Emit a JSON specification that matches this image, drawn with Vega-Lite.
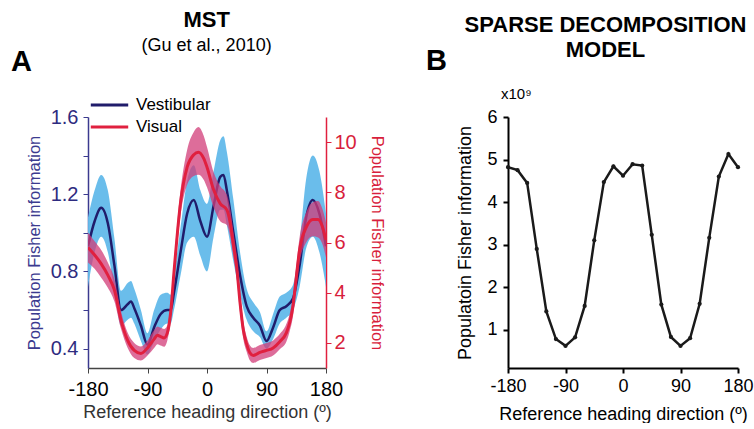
{
  "$schema": "https://vega.github.io/schema/vega-lite/v6.json",
  "padding": {"left": 11, "top": 9, "right": 0, "bottom": 0},
  "background": "white",
  "config": {
    "font": "Liberation Sans",
    "view": {"stroke": null},
    "title": {"font": "Liberation Sans", "fontSize": 22, "fontWeight": "bold", "color": "black", "subtitleFont": "Liberation Sans", "subtitleFontSize": 18, "subtitleColor": "black"},
    "axis": {"labelFont": "Liberation Sans", "titleFont": "Liberation Sans", "titleFontWeight": "normal", "grid": false, "tickSize": 5, "labelFlush": false, "labelOverlap": false}
  },
  "datasets": {
    "vest": [
      {"deg": -180, "v": 0.93, "lo": 0.72, "hi": 1.08},
      {"deg": -170, "v": 1.06, "lo": 0.9, "hi": 1.22},
      {"deg": -160, "v": 1.13, "lo": 0.98, "hi": 1.3},
      {"deg": -150, "v": 1.05, "lo": 0.9, "hi": 1.22},
      {"deg": -140, "v": 0.83, "lo": 0.7, "hi": 0.97},
      {"deg": -130, "v": 0.6, "lo": 0.52, "hi": 0.7},
      {"deg": -120, "v": 0.63, "lo": 0.55, "hi": 0.74},
      {"deg": -115, "v": 0.645, "lo": 0.56, "hi": 0.75},
      {"deg": -110, "v": 0.61, "lo": 0.53, "hi": 0.71},
      {"deg": -100, "v": 0.52, "lo": 0.44, "hi": 0.6},
      {"deg": -90, "v": 0.42, "lo": 0.37, "hi": 0.48},
      {"deg": -80, "v": 0.51, "lo": 0.44, "hi": 0.6},
      {"deg": -70, "v": 0.58, "lo": 0.5, "hi": 0.68},
      {"deg": -60, "v": 0.6, "lo": 0.53, "hi": 0.69},
      {"deg": -55, "v": 0.6, "lo": 0.53, "hi": 0.68},
      {"deg": -50, "v": 0.69, "lo": 0.6, "hi": 0.78},
      {"deg": -40, "v": 0.9, "lo": 0.78, "hi": 1.03},
      {"deg": -30, "v": 1.1, "lo": 0.95, "hi": 1.27},
      {"deg": -20, "v": 1.17, "lo": 0.98, "hi": 1.35},
      {"deg": -10, "v": 1.06, "lo": 0.88, "hi": 1.22},
      {"deg": 0, "v": 0.98, "lo": 0.8, "hi": 1.15},
      {"deg": 10, "v": 1.14, "lo": 0.98, "hi": 1.32},
      {"deg": 20, "v": 1.29, "lo": 1.12, "hi": 1.48},
      {"deg": 25, "v": 1.3, "lo": 1.12, "hi": 1.5},
      {"deg": 30, "v": 1.22, "lo": 1.04, "hi": 1.42},
      {"deg": 40, "v": 1.0, "lo": 0.85, "hi": 1.17},
      {"deg": 50, "v": 0.78, "lo": 0.68, "hi": 0.9},
      {"deg": 60, "v": 0.62, "lo": 0.55, "hi": 0.71},
      {"deg": 70, "v": 0.56, "lo": 0.49, "hi": 0.64},
      {"deg": 80, "v": 0.52, "lo": 0.46, "hi": 0.59},
      {"deg": 90, "v": 0.44, "lo": 0.4, "hi": 0.49},
      {"deg": 100, "v": 0.51, "lo": 0.45, "hi": 0.58},
      {"deg": 110, "v": 0.6, "lo": 0.53, "hi": 0.67},
      {"deg": 120, "v": 0.62, "lo": 0.56, "hi": 0.69},
      {"deg": 130, "v": 0.66, "lo": 0.6, "hi": 0.73},
      {"deg": 140, "v": 0.83, "lo": 0.72, "hi": 0.95},
      {"deg": 150, "v": 1.08, "lo": 0.92, "hi": 1.28},
      {"deg": 160, "v": 1.17, "lo": 0.98, "hi": 1.4},
      {"deg": 170, "v": 1.1, "lo": 0.9, "hi": 1.32},
      {"deg": 180, "v": 0.93, "lo": 0.72, "hi": 1.1}
    ],
    "vis": [
      {"deg": -180, "v": 5.8, "lo": 5.2, "hi": 6.4},
      {"deg": -170, "v": 5.5, "lo": 4.95, "hi": 6.05},
      {"deg": -160, "v": 5.15, "lo": 4.6, "hi": 5.7},
      {"deg": -150, "v": 4.7, "lo": 4.2, "hi": 5.2},
      {"deg": -140, "v": 4.1, "lo": 3.65, "hi": 4.55},
      {"deg": -130, "v": 2.9, "lo": 2.55, "hi": 3.25},
      {"deg": -120, "v": 2.1, "lo": 1.8, "hi": 2.4},
      {"deg": -110, "v": 1.7, "lo": 1.4, "hi": 2.0},
      {"deg": -100, "v": 1.58, "lo": 1.3, "hi": 1.86},
      {"deg": -90, "v": 1.8, "lo": 1.5, "hi": 2.1},
      {"deg": -80, "v": 2.15, "lo": 1.8, "hi": 2.5},
      {"deg": -75, "v": 2.3, "lo": 1.95, "hi": 2.65},
      {"deg": -70, "v": 2.25, "lo": 1.9, "hi": 2.6},
      {"deg": -65, "v": 2.2, "lo": 1.85, "hi": 2.55},
      {"deg": -60, "v": 2.4, "lo": 2.1, "hi": 2.7},
      {"deg": -55, "v": 3.2, "lo": 2.85, "hi": 3.55},
      {"deg": -50, "v": 4.8, "lo": 4.4, "hi": 5.2},
      {"deg": -40, "v": 7.6, "lo": 7.1, "hi": 8.1},
      {"deg": -30, "v": 9.0, "lo": 8.3, "hi": 9.7},
      {"deg": -20, "v": 9.5, "lo": 8.65, "hi": 10.4},
      {"deg": -13, "v": 9.6, "lo": 8.7, "hi": 10.6},
      {"deg": -5, "v": 9.35, "lo": 8.5, "hi": 10.25},
      {"deg": 0, "v": 9.0, "lo": 8.2, "hi": 9.8},
      {"deg": 10, "v": 8.1, "lo": 7.4, "hi": 8.8},
      {"deg": 20, "v": 7.55, "lo": 6.85, "hi": 8.25},
      {"deg": 30, "v": 7.3, "lo": 6.7, "hi": 7.9},
      {"deg": 35, "v": 6.8, "lo": 6.25, "hi": 7.35},
      {"deg": 40, "v": 5.9, "lo": 5.4, "hi": 6.4},
      {"deg": 45, "v": 5.0, "lo": 4.55, "hi": 5.45},
      {"deg": 50, "v": 3.6, "lo": 3.2, "hi": 4.0},
      {"deg": 55, "v": 2.5, "lo": 2.15, "hi": 2.85},
      {"deg": 60, "v": 1.95, "lo": 1.65, "hi": 2.25},
      {"deg": 65, "v": 1.6, "lo": 1.3, "hi": 1.9},
      {"deg": 70, "v": 1.5, "lo": 1.2, "hi": 1.8},
      {"deg": 80, "v": 1.62, "lo": 1.32, "hi": 1.92},
      {"deg": 90, "v": 1.7, "lo": 1.4, "hi": 2.0},
      {"deg": 100, "v": 1.8, "lo": 1.5, "hi": 2.1},
      {"deg": 110, "v": 2.05, "lo": 1.75, "hi": 2.35},
      {"deg": 120, "v": 2.4, "lo": 2.05, "hi": 2.75},
      {"deg": 125, "v": 2.8, "lo": 2.45, "hi": 3.15},
      {"deg": 130, "v": 3.45, "lo": 3.05, "hi": 3.85},
      {"deg": 135, "v": 4.6, "lo": 4.15, "hi": 5.05},
      {"deg": 140, "v": 5.7, "lo": 5.2, "hi": 6.2},
      {"deg": 150, "v": 6.6, "lo": 6.0, "hi": 7.2},
      {"deg": 160, "v": 6.92, "lo": 6.25, "hi": 7.6},
      {"deg": 168, "v": 6.92, "lo": 6.2, "hi": 7.65},
      {"deg": 175, "v": 6.6, "lo": 5.9, "hi": 7.3},
      {"deg": 180, "v": 6.1, "lo": 5.4, "hi": 6.8}
    ],
    "model": [
      {"deg": -180, "fi": 4.82},
      {"deg": -165, "fi": 4.75},
      {"deg": -150, "fi": 4.45},
      {"deg": -135, "fi": 2.9},
      {"deg": -120, "fi": 1.43},
      {"deg": -105, "fi": 0.78},
      {"deg": -90, "fi": 0.62},
      {"deg": -75, "fi": 0.82},
      {"deg": -60, "fi": 1.56},
      {"deg": -45, "fi": 3.1},
      {"deg": -30, "fi": 4.47},
      {"deg": -15, "fi": 4.84},
      {"deg": 0, "fi": 4.62},
      {"deg": 15, "fi": 4.89},
      {"deg": 30, "fi": 4.86},
      {"deg": 45, "fi": 3.23},
      {"deg": 60, "fi": 1.59},
      {"deg": 75, "fi": 0.83},
      {"deg": 90, "fi": 0.62},
      {"deg": 105, "fi": 0.8},
      {"deg": 120, "fi": 1.61},
      {"deg": 135, "fi": 3.16},
      {"deg": 150, "fi": 4.6},
      {"deg": 165, "fi": 5.13},
      {"deg": 180, "fi": 4.82}
    ]
  },
  "hconcat": [
    {
      "title": {"text": "MST", "subtitle": "(Gu et al., 2010)", "anchor": "middle", "offset": -8, "subtitlePadding": 5, "dx": 9},
      "vconcat": [
        {
          "title": {"text": "A", "anchor": "start", "frame": "group", "fontSize": 29, "dx": -77, "offset": 30},
          "width": 238,
          "height": 251,
          "layer": [
            {
              "data": {"name": "vest"},
              "layer": [
                {
                  "mark": {"type": "area", "color": "#62b9ea", "opacity": 0.95, "interpolate": "monotone", "clip": true},
                  "encoding": {
                    "x": {"field": "deg", "type": "quantitative", "scale": {"domain": [-180, 180], "nice": false},
                      "axis": {"values": [-180, -135, -90, -45, 0, 45, 90, 135, 180], "labelExpr": "datum.value % 90 == 0 ? '' + datum.value : ''", "title": "Reference heading direction (º)", "labelFontSize": 20, "titleFontSize": 18, "titlePadding": 4, "domainColor": "#444", "tickColor": "#444", "labelColor": "black", "titleColor": "#333", "labelPadding": 6, "domainWidth": 1.5}},
                    "y": {"field": "lo", "type": "quantitative", "scale": {"domain": [0.3, 1.6], "nice": false, "zero": false},
                      "axis": {"orient": "left", "values": [0.4, 0.6, 0.8, 1.0, 1.2, 1.4, 1.6], "labelExpr": "indexof(['0.4','0.8','1.2','1.6'], format(datum.value, '.1f')) >= 0 ? format(datum.value, '.1f') : ''", "title": "Population Fisher information", "titleFontSize": 16.5, "labelFontSize": 20, "domainColor": "#3b3a8f", "tickColor": "#3b3a8f", "labelColor": "#2e2b80", "titleColor": "#3b3a8f", "titlePadding": 8, "labelPadding": 5, "domainWidth": 1.5}},
                    "y2": {"field": "hi"}
                  }
                },
                {
                  "mark": {"type": "line", "strokeWidth": 2.5, "interpolate": "monotone", "clip": true},
                  "encoding": {
                    "x": {"field": "deg", "type": "quantitative"},
                    "y": {"field": "v", "type": "quantitative"},
                    "color": {"datum": "Vestibular", "type": "nominal",
                      "scale": {"domain": ["Vestibular", "Visual"], "range": ["#201c6b", "#e0203f"]},
                      "legend": {"title": null, "orient": "none", "legendX": 1, "legendY": -22, "symbolType": "stroke", "symbolSize": 1400, "symbolStrokeWidth": 3, "labelFontSize": 17, "labelFont": "Liberation Sans", "labelColor": "black", "clipHeight": 20, "rowPadding": 2, "labelOffset": 6}}
                  }
                }
              ]
            },
            {
              "data": {"name": "vis"},
              "layer": [
                {
                  "mark": {"type": "area", "color": "#d23c78", "opacity": 0.75, "interpolate": "monotone", "clip": true},
                  "encoding": {
                    "x": {"field": "deg", "type": "quantitative"},
                    "y": {"field": "lo", "type": "quantitative", "scale": {"domain": [1, 11], "nice": false, "zero": false},
                      "axis": {"orient": "right", "values": [2, 3, 4, 5, 6, 7, 8, 9, 10, 11], "labelExpr": "datum.value % 2 == 0 && datum.value <= 10 ? datum.label : ''", "title": "Population Fisher information", "titleAngle": 90, "titleFontSize": 16.5, "labelFontSize": 20, "domainColor": "#e0203f", "tickColor": "#e0203f", "labelColor": "#d81e3c", "titleColor": "#d81e3c", "titlePadding": 12, "labelPadding": 3, "domainWidth": 1.5}},
                    "y2": {"field": "hi"}
                  }
                },
                {
                  "mark": {"type": "line", "strokeWidth": 3, "interpolate": "monotone", "clip": true},
                  "encoding": {
                    "x": {"field": "deg", "type": "quantitative"},
                    "y": {"field": "v", "type": "quantitative"},
                    "color": {"datum": "Visual", "type": "nominal"}
                  }
                }
              ]
            }
          ],
          "resolve": {"scale": {"y": "independent"}}
        }
      ]
    },
    {
      "title": {"text": "SPARSE DECOMPOSITION", "subtitle": "MODEL", "subtitleFont": "Liberation Sans", "subtitleFontSize": 22, "subtitleFontWeight": "bold", "subtitlePadding": 6, "anchor": "middle", "offset": -11, "dx": 16, "baseline": "line-top", "lineHeight": 30},
      "vconcat": [
        {
          "title": {"text": "B", "anchor": "start", "frame": "group", "fontSize": 29, "dx": -82, "offset": 11},
          "vconcat": [
            {
              "title": {"text": "x10⁹", "anchor": "start", "frame": "group", "fontSize": 15, "fontWeight": "normal", "dx": -7, "offset": 6},
              "data": {"name": "model"},
              "width": 230,
              "height": 251,
              "layer": [
                {
                  "mark": {"type": "line", "color": "#1a1a1a", "strokeWidth": 2.5},
                  "encoding": {
                    "x": {"field": "deg", "type": "quantitative", "scale": {"domain": [-180, 180], "nice": false},
                      "axis": {"values": [-180, -90, 0, 90, 180], "labelExpr": "'' + datum.value", "title": "Reference heading direction (º)", "labelFontSize": 18, "titleFontSize": 18, "titlePadding": 10, "domainColor": "black", "tickColor": "black", "labelColor": "black", "titleColor": "black", "domainWidth": 2, "tickWidth": 2, "labelPadding": 4}},
                    "y": {"field": "fi", "type": "quantitative", "scale": {"domain": [0.1, 6], "nice": false, "zero": false},
                      "axis": {"values": [1, 2, 3, 4, 5, 6], "title": "Populatoin Fisher information", "titleFontSize": 18, "labelFontSize": 18, "domainColor": "black", "tickColor": "black", "labelColor": "black", "titleColor": "black", "domainWidth": 2, "tickWidth": 2, "titlePadding": 12, "labelPadding": 6}}
                  }
                },
                {
                  "mark": {"type": "point", "filled": true, "color": "#1a1a1a", "size": 18, "opacity": 1},
                  "encoding": {
                    "x": {"field": "deg", "type": "quantitative"},
                    "y": {"field": "fi", "type": "quantitative"}
                  }
                }
              ]
            }
          ]
        }
      ]
    }
  ],
  "spacing": 41
}
